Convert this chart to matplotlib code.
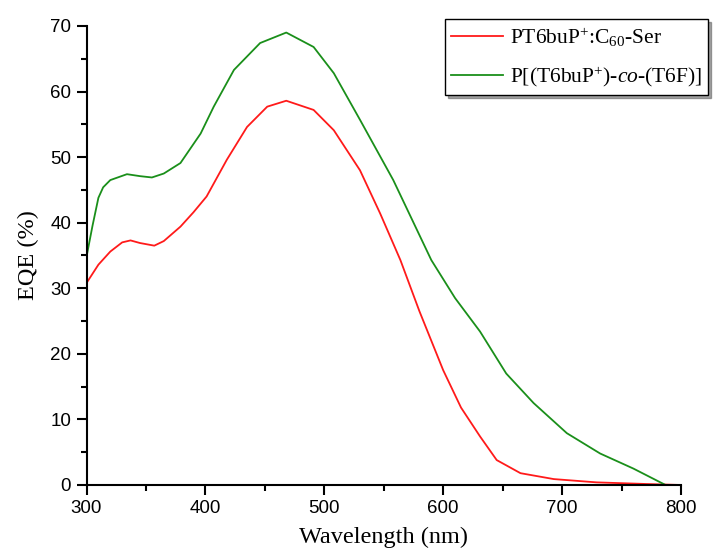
import numpy as np
import matplotlib
matplotlib.use("Agg")
import matplotlib.pyplot as plt
from matplotlib.ticker import MultipleLocator

# Datos
wl_red = [300, 310, 320, 330, 337, 345, 357, 365, 379, 390, 401, 418, 435, 452, 468,
          491, 508, 530, 547, 564, 580, 600, 615, 631, 645, 665, 693, 729, 771, 800]
eqe_red = [30.8, 33.6, 35.6, 37.0, 37.3, 36.9, 36.5, 37.2, 39.4, 41.6, 44.0, 49.6,
           54.6, 57.7, 58.6, 57.2, 54.1, 48.0, 41.4, 34.3, 26.5, 17.5, 11.8, 7.4,
           3.8, 1.8, 0.9, 0.4, 0.15, 0.0]

wl_green = [300, 305, 310, 314, 320, 334, 345, 355, 365, 379, 396, 407, 424, 446,
            468, 491, 508, 530, 558, 590, 610, 631, 653, 676, 704, 732, 760, 787]
eqe_green = [34.8, 39.5, 43.8, 45.4, 46.5, 47.4, 47.1, 46.9, 47.5, 49.1, 53.6, 57.7,
             63.3, 67.4, 69.0, 66.8, 62.8, 55.7, 46.5, 34.3, 28.5, 23.4, 17.0, 12.5,
             7.9, 4.8, 2.5, 0.0]

labels = [r"PT6buP$^{+}$:C$_{60}$-Ser", r"P[(T6buP$^{+}$)-$\it{co}$-(T6F)]"]

plt.rcParams["mathtext.fontset"] = "custom"
plt.rcParams["mathtext.rm"] = "Liberation Serif"
plt.rcParams["mathtext.it"] = "Liberation Serif:italic"

fig = plt.figure(figsize=(7.24, 5.59), dpi=100)
ax = fig.add_axes([0.1195, 0.1324, 0.8211, 0.8211])

l1, = ax.plot(wl_red, eqe_red, color="#ff1a1a", lw=1.3)
l2, = ax.plot(wl_green, eqe_green, color="#1a8f1a", lw=1.3)

ax.set_xlim(300, 800)
ax.set_ylim(0, 70)
ax.xaxis.set_major_locator(MultipleLocator(100))
ax.xaxis.set_minor_locator(MultipleLocator(50))
ax.yaxis.set_major_locator(MultipleLocator(10))
ax.yaxis.set_minor_locator(MultipleLocator(5))

for s in ["top", "right"]:
    ax.spines[s].set_visible(False)
for s in ["left", "bottom"]:
    ax.spines[s].set_linewidth(1.5)

ax.tick_params(which="major", direction="out", length=7, width=1.5,
               labelsize=13.5, pad=4)
ax.tick_params(which="minor", direction="out", length=4, width=1.5)
for t in ax.get_xticklabels() + ax.get_yticklabels():
    t.set_family("Liberation Sans")

ax.set_xlabel("Wavelength (nm)", family="Liberation Serif", fontsize=17.5, labelpad=7)
ax.set_ylabel("EQE (%)", family="Liberation Serif", fontsize=17.5, labelpad=8)

leg = fig.legend([l1, l2], labels, loc="upper left",
                 bbox_to_anchor=(0.6146, 0.966), borderaxespad=0,
                 prop={"family": "Liberation Serif", "size": 15.5},
                 frameon=True, fancybox=False, shadow=True, handlelength=2.4,
                 handletextpad=0.3, borderpad=0.3, labelspacing=0.75)
leg.get_frame().set_edgecolor("black")
leg.get_frame().set_linewidth(1.0)

fig.savefig("out.png", dpi=100)
